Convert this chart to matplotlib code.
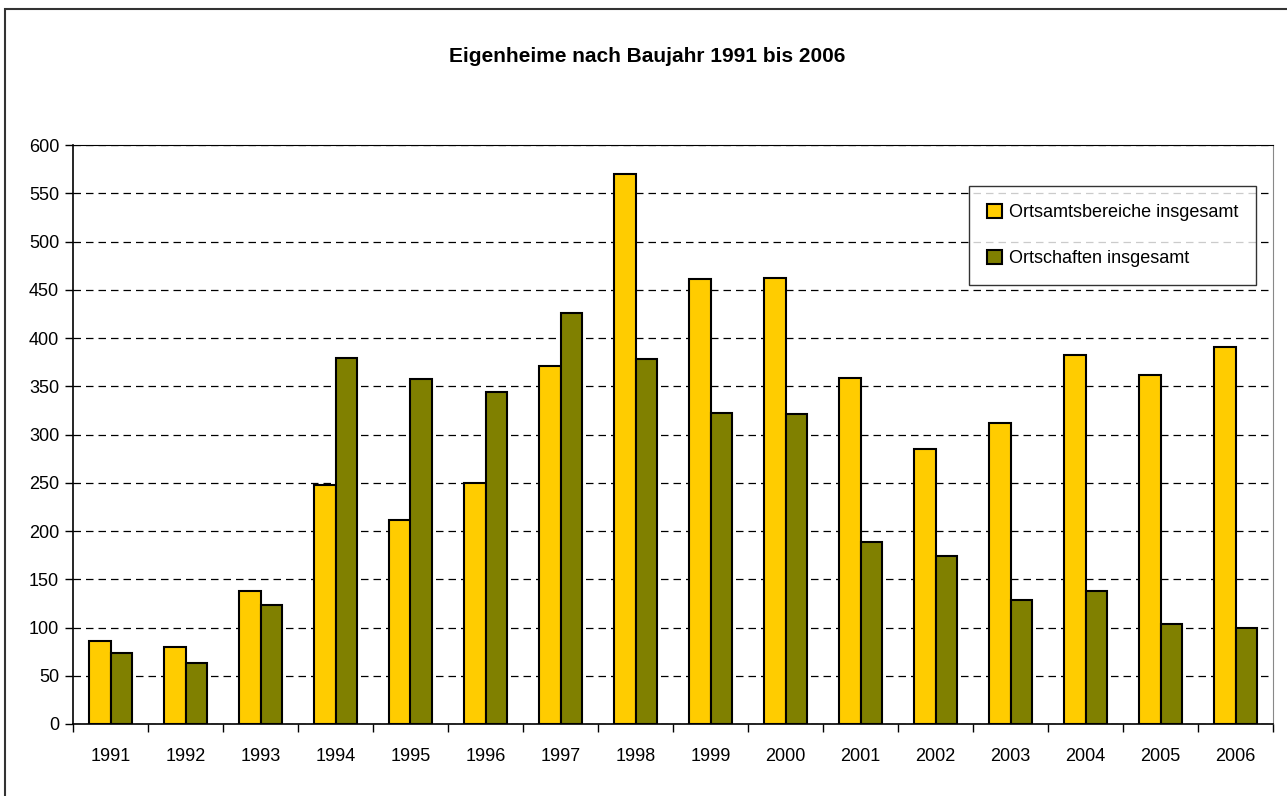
import numpy as np
import matplotlib.pyplot as plt
from matplotlib.patches import Rectangle

# Baujahre und Werte
years = ['1991', '1992', '1993', '1994', '1995', '1996', '1997', '1998',
         '1999', '2000', '2001', '2002', '2003', '2004', '2005', '2006']
ortsamt = [86, 80, 138, 248, 211, 250, 371, 570, 461, 462, 359, 285, 312, 382, 362, 391]
ortschaften = [74, 63, 123, 379, 357, 344, 426, 378, 322, 321, 189, 174, 128, 138, 104, 100]

plt.rcParams['font.family'] = ['Liberation Sans', 'DejaVu Sans']

fig = plt.figure(figsize=(12.87, 7.96), dpi=100)
ax = fig.add_axes([73/1287, 1 - 724/796, 1200/1287, 579/796])

# Rahmen um die ganze Grafik
fig.patches.append(Rectangle((5/1287, -0.01), 1.1, 1 - 9/796 + 0.01, transform=fig.transFigure,
                             fill=False, edgecolor='#333333', linewidth=1.5))

x = np.arange(len(years))
width = 0.29
ax.bar(x - width/2, ortsamt, width, color='#FFCC00', edgecolor='black', linewidth=1.5,
       label='Ortsamtsbereiche insgesamt', zorder=3)
ax.bar(x + width/2, ortschaften, width, color='#808000', edgecolor='black', linewidth=1.5,
       label='Ortschaften insgesamt', zorder=3)

ax.set_xlim(-0.5, len(years) - 0.5)
ax.set_ylim(0, 600)
ax.set_yticks(range(0, 601, 50))
ax.yaxis.grid(True, linestyle=(0, (6, 4)), color='black', linewidth=0.9)
ax.set_axisbelow(True)

ax.set_xticks(x)
ax.set_xticklabels(years, fontsize=13)
ax.set_xticks(np.arange(-0.5, len(years)), minor=True)
ax.tick_params(axis='x', which='major', length=0, pad=17)
ax.tick_params(axis='x', which='minor', length=6, width=1)
ax.tick_params(axis='y', labelsize=13, length=6, width=1, pad=4)

ax.spines['top'].set_color('black')
ax.spines['right'].set_color('#888888')
ax.spines['left'].set_linewidth(1.2)
ax.spines['bottom'].set_linewidth(1.2)

fig.text(0.503, 1 - 57/796, 'Eigenheime nach Baujahr 1991 bis 2006', ha='center', va='center',
         fontsize=15, fontweight='bold')

leg = ax.legend(loc='upper left', bbox_to_anchor=((969 - 73)/1200, (724 - 186)/579),
                fontsize=13, frameon=True, fancybox=False, edgecolor='black',
                handlelength=0.8, handleheight=0.8, handletextpad=0.4,
                labelspacing=1.6, borderpad=1.0, borderaxespad=0)
leg.get_frame().set_linewidth(1.0)

fig.savefig('out.png', dpi=100)
